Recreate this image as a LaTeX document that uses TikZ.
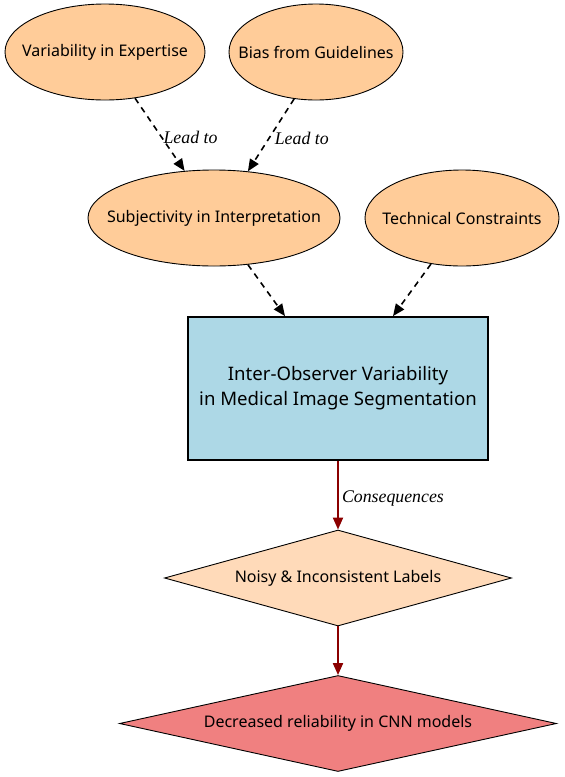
\documentclass[tikz,border=0pt]{standalone}
\usepackage{fontspec}
\setmainfont{Noto Sans}
\newfontfamily\labelfont{Liberation Serif}
\usetikzlibrary{shapes.geometric,arrows.meta,calc}
\definecolor{peach}{HTML}{FFCC99}
\definecolor{boxblue}{HTML}{ADD8E6}
\definecolor{puff}{HTML}{FFDAB9}
\definecolor{coral}{HTML}{F08080}
\definecolor{dred}{HTML}{8B0000}
\newcommand{\ztext}[1]{\makebox[0pt]{#1}}
\begin{document}
\begin{tikzpicture}[x=1pt,y=-1pt,
  cause/.style={ellipse,draw=black,line width=0.9pt,fill=peach,inner sep=0pt,
    minimum height=96pt,font=\fontsize{16}{19}\selectfont},
  mainbox/.style={rectangle,draw=black,line width=1.8pt,fill=boxblue,
    minimum width=300pt,minimum height=143pt,align=center,
    font=\fontsize{18.6}{25}\selectfont},
  effect/.style={diamond,draw=black,line width=0.9pt,inner sep=0pt,
    minimum height=96pt,font=\fontsize{16}{19}\selectfont},
  leadedge/.style={dashed,dash pattern=on 6pt off 5pt,line width=1.6pt,
    -{Triangle[length=12pt,width=10pt]}},
  redge/.style={draw=dred,line width=2pt,-{Triangle[length=12pt,width=10pt]}},
  elabel/.style={font=\labelfont\itshape\fontsize{17.8}{20}\selectfont,
    anchor=west,inner sep=3pt,yshift=-3pt}]
\useasboundingbox (0,0) rectangle (565,777);
\node[cause,minimum width=200pt] (ve) at (105,52) {\ztext{Variability in Expertise}};
\node[cause,minimum width=174pt] (bg) at (316,52) {\ztext{Bias from Guidelines}};
\node[cause,minimum width=252pt] (si) at (214,218) {\ztext{Subjectivity in Interpretation}};
\node[cause,minimum width=194pt] (tc) at (462,218) {\ztext{Technical Constraints}};
\node[mainbox] (iov) at (338,388.5) {Inter-Observer Variability\\in Medical Image Segmentation};
\node[effect,fill=puff,minimum width=347pt] (nl) at (338,578) {\ztext{Noisy \& Inconsistent Labels}};
\node[effect,fill=coral,minimum width=437pt] (dr) at (338,723.5) {\ztext{Decreased reliability in CNN models}};
\draw[leadedge] (ve.-57) -- (si.122) node[elabel,pos=0.5] {Lead to};
\draw[leadedge] (bg.-115) -- (si.54) node[elabel,pos=0.5] {Lead to};
\draw[leadedge] (si.-54) -- ($(iov.north)+(-53,0)$);
\draw[leadedge] (tc.-124) -- ($(iov.north)+(55,0)$);
\draw[redge] (iov.south) -- (nl.north) node[elabel,pos=0.5,text=black] {Consequences};
\draw[redge] (nl.south) -- (dr.north);
\end{tikzpicture}
\end{document}
